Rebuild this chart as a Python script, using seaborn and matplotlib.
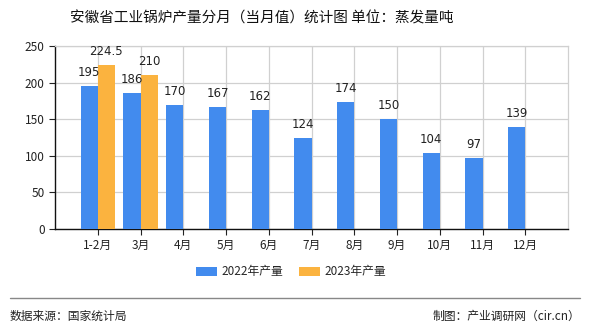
import matplotlib
matplotlib.use("Agg")
import matplotlib.pyplot as plt
import seaborn as sns
import pandas as pd
import numpy as np
from matplotlib.patches import Patch
from matplotlib.lines import Line2D

months = ["1-2月", "3月", "4月", "5月", "6月", "7月", "8月", "9月", "10月", "11月", "12月"]
output_2022 = [195, 186, 170, 167, 162, 124, 174, 150, 104, 97, 139]
output_2023 = [224.5, 210, None, None, None, None, None, None, None, None, None]
series_names = ["2022年产量", "2023年产量"]
colors = ["#428BEE", "#FBB33F"]
y_ticks = [0, 50, 100, 150, 200, 250]

sns.set_theme(style="white")
plt.rcParams["font.family"] = ["Noto Sans CJK SC", "DejaVu Sans"]

df = pd.DataFrame({
    "month": months * 2,
    "value": output_2022 + output_2023,
    "series": [series_names[0]] * len(months) + [series_names[1]] * len(months),
})
df["value"] = pd.to_numeric(df["value"])

fig = plt.figure(figsize=(5.9, 3.3), dpi=100)
ax = fig.add_axes([55 / 590, 1 - 229 / 330, (568 - 55) / 590, (229 - 46) / 330])

sns.barplot(data=df, x="month", y="value", hue="series", order=months,
            hue_order=series_names, palette=colors, width=0.8, dodge=True,
            saturation=1, legend=False, ax=ax, zorder=3, linewidth=0,
            edgecolor="none")

for container in ax.containers:
    ax.bar_label(container, fmt="%g", padding=5, fontsize=8.5,
                 color="#222222", family="DejaVu Sans")

ax.set_xlim(-1, len(months))
ax.set_ylim(0, 250)
ax.set_yticks(y_ticks)
ax.set_xlabel("")
ax.set_ylabel("")
ax.tick_params(axis="both", labelsize=8.5, colors="#222222", length=4,
               width=0.8, direction="out", bottom=True, left=True)
ax.set_axisbelow(True)
ax.xaxis.grid(True, color="#d0d0d0", linewidth=0.9)
ax.yaxis.grid(True, color="#d0d0d0", linewidth=0.9)
for side in ["left", "bottom"]:
    ax.spines[side].set_color("#111111")
    ax.spines[side].set_linewidth(1.0)
for side in ["top", "right"]:
    ax.spines[side].set_color("#d0d0d0")
    ax.spines[side].set_linewidth(0.9)

fig.text(262 / 590, 1 - 18 / 330, "安徽省工业锅炉产量分月（当月值）统计图 单位：蒸发量吨",
         ha="center", va="center", fontsize=10.5, color="#111111")

handles = [Patch(facecolor=c, edgecolor="none") for c in colors]
fig.legend(handles, series_names, loc="center", bbox_to_anchor=(291 / 590, 1 - 272 / 330),
           ncol=2, frameon=False, fontsize=8.5, handlelength=1.8, handleheight=0.7,
           columnspacing=1.3, handletextpad=0.4)

fig.add_artist(Line2D([10 / 590, 580 / 590], [1 - 298 / 330, 1 - 298 / 330],
                      color="#888888", linewidth=1.0, transform=fig.transFigure))
fig.text(10 / 590, 1 - 316 / 330, "数据来源：国家统计局", ha="left", va="center",
         fontsize=8.5, color="#222222")
fig.text(580 / 590, 1 - 316 / 330, "制图：产业调研网（cir.cn）", ha="right", va="center",
         fontsize=8.5, color="#222222")

fig.savefig("out.png", dpi=100, facecolor="white")
